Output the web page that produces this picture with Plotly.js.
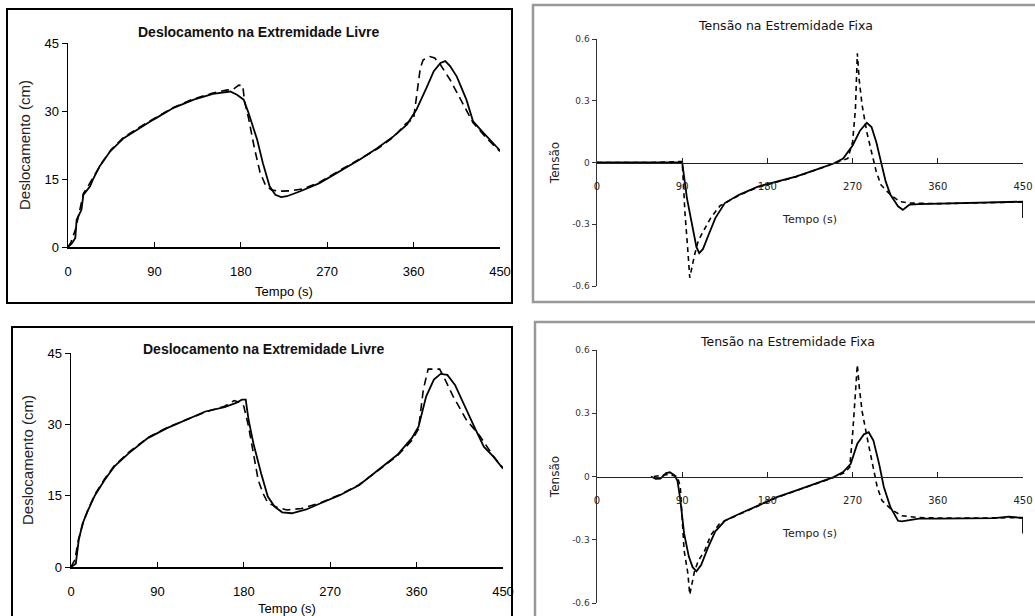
<!DOCTYPE html>
<html>
<head>
<meta charset="utf-8">
<script src="https://cdn.plot.ly/plotly-3.0.1.min.js"></script>
<style>html,body{margin:0;padding:0;background:#fff;}#chart{width:1035px;height:616px;}</style>
</head>
<body>
<div id="chart"></div>
<script>
// ---------- data ----------
const xTicks = [0, 90, 180, 270, 360, 450];
const dispTicks = [0, 15, 30, 45];
const stressTicks = [-0.6, -0.3, 0, 0.3, 0.6];
const stressTickText = ['-0.6', '-0.3', '0', '0.3', '0.6'];

const titleDisp = 'Deslocamento na Extremidade Livre';
const titleStress = 'Tensão na Estremidade Fixa';

// Panel 1 (top-left): displacement
const p1SolidT = [0,4,7.6,9,14,16,23,26,33,44,58,75,89,110,131,151,169,176,183,188,197,203,210,216,222,228,242,262,283,304,322,339,353,363,374,381,388,393,398,405,415,422,433,443,450];
const p1SolidV = [0,0.8,2,6,8.2,11.5,13.4,14.9,17.8,21.1,24,26.3,28.1,30.7,32.5,33.8,34.3,33.6,32.5,29.6,23.7,18.5,13.4,11.5,11,11.2,12.3,14.1,16.7,19.3,21.8,24.4,27,30.3,35.4,38.8,40.6,41,39.9,37.6,32.5,27.7,25.1,22.9,21.3];
const p1DashT = [0,3,8,12,16,22,28,35,45,58,75,90,110,130,150,165,172,178,182,184,188,194,200,206,212,220,232,245,262,283,304,322,339,352,360,363,367,370,377,382,388,398,408,422,436,450];
const p1DashV = [0,1,4,8,11.8,13.8,16,18.5,21.5,24.2,26.5,28.3,30.8,32.6,33.9,34.6,34.8,35.7,35.6,32,28.5,22,16.5,13.5,12.6,12.3,12.4,12.8,14.3,16.9,19.4,21.6,24.2,27.2,28.3,33,39.5,41.3,42,41.7,40.2,36.9,32.9,27.4,24,21.1];

// Panel 2 (top-right): stress
const p2SolidT = [0,30,60,88,90,95,100,105,108,112,118,125,135,150,170,190,210,230,250,260,270,278,285,290,295,300,305,310,318,323,330,340,360,380,400,420,440,448,450,450];
const p2SolidV = [0,0,0,0,0,-0.173,-0.30,-0.41,-0.44,-0.42,-0.35,-0.27,-0.197,-0.157,-0.117,-0.093,-0.069,-0.037,-0.005,0.019,0.083,0.156,0.193,0.172,0.1,0.003,-0.093,-0.157,-0.213,-0.23,-0.205,-0.202,-0.2,-0.199,-0.197,-0.195,-0.193,-0.19,-0.19,-0.27];
const p2DashT = [0,30,60,90,93,96,98,103,107,114,120,130,150,170,190,210,230,250,265,270,273,275,277,280,285,290,295,300,310,320,330,360,400,440,450];
const p2DashV = [0,0,0,0.005,-0.25,-0.43,-0.56,-0.45,-0.38,-0.32,-0.27,-0.21,-0.16,-0.12,-0.095,-0.07,-0.038,-0.007,0.02,0.1,0.26,0.53,0.40,0.28,0.148,0.051,-0.045,-0.109,-0.157,-0.19,-0.197,-0.2,-0.198,-0.195,-0.192];

// Panel 3 (bottom-left): displacement
const p3SolidT = [0,5,8,12,17,25,35,45,60,80,100,120,140,160,172,178,182,185,190,198,205,212,220,230,245,260,280,300,320,340,355,362,370,378,385,392,400,410,420,430,440,450];
const p3SolidV = [0,0.7,5.6,9.1,11.6,15.1,18.3,21.1,23.9,27.1,29.2,30.9,32.7,33.6,34.5,35.2,35.2,30.9,26,19.7,14.8,12.7,11.5,11.3,12.1,13.4,15.1,17.2,20.4,23.6,27.1,29.5,35.9,39.4,40.6,40.4,38.3,33.8,29.5,25.3,23.2,20.7];
const p3DashT = [0,4,8,13,18,25,35,45,60,80,100,120,140,160,170,176,180,185,190,195,200,205,215,225,240,260,280,300,320,340,355,362,367,372,384,388,398,412,425,440,450];
const p3DashV = [0,1.5,6,9.5,12.2,15.3,18.5,21.3,24.1,27.2,29.3,31,32.6,33.8,35,34.6,33.8,29.5,24,18.3,15.5,13.5,12.5,12,12.3,13.5,15.2,17.3,20.3,23.4,26.6,29,37.3,41.6,41.6,40.1,35.9,30.9,27.8,23.3,20.8];

// Panel 4 (bottom-right): stress
const p4SolidT = [57,62,67,73,77,82,85,88,92,97,101,105,110,117,125,135,150,170,190,210,230,250,260,268,275,282,287,292,298,303,310,318,322,340,360,380,420,435,445,450,450];
const p4SolidV = [0,-0.011,-0.01,0.016,0.02,0.005,-0.02,-0.11,-0.27,-0.38,-0.43,-0.45,-0.42,-0.34,-0.26,-0.21,-0.178,-0.138,-0.098,-0.067,-0.035,-0.003,0.021,0.06,0.156,0.2,0.21,0.17,0.06,-0.05,-0.146,-0.21,-0.213,-0.2,-0.2,-0.2,-0.197,-0.19,-0.197,-0.197,-0.27];
const p4DashT = [60,75,85,88,92,96,98,103,107,114,120,130,150,170,190,210,230,250,262,267,270,273,275,277,280,286,291,296,301,312,322,340,380,420,450];
const p4DashV = [0,0.01,0,-0.05,-0.35,-0.46,-0.56,-0.45,-0.4,-0.35,-0.28,-0.22,-0.18,-0.14,-0.1,-0.068,-0.036,-0.005,0.02,0.044,0.2,0.425,0.53,0.425,0.31,0.17,0.06,-0.05,-0.114,-0.16,-0.186,-0.195,-0.198,-0.196,-0.195];

// ---------- layout helpers ----------
const W = 1035, H = 616;
const fx = px => px / W;
const fy = py => 1 - py / H;

const leftFont = 'Liberation Sans, Arial, sans-serif';
const rightFont = 'DejaVu Sans, Verdana, sans-serif';

function line(x, y, xa, ya, dash, width) {
  return {x: x, y: y, xaxis: xa, yaxis: ya, type: 'scatter', mode: 'lines',
    line: {color: '#000', width: width, dash: dash}, hoverinfo: 'skip', showlegend: false, cliponaxis: false};
}

const traces = [
  line(p1SolidT, p1SolidV, 'x', 'y', 'solid', 1.8),
  line(p1DashT, p1DashV, 'x', 'y', '8px,5px', 1.6),
  line(p2SolidT, p2SolidV, 'x2', 'y2', 'solid', 1.8),
  line(p2DashT, p2DashV, 'x2', 'y2', '5px,4px', 1.6),
  line(p3SolidT, p3SolidV, 'x3', 'y3', 'solid', 1.8),
  line(p3DashT, p3DashV, 'x3', 'y3', '8px,5px', 1.6),
  line(p4SolidT, p4SolidV, 'x4', 'y4', 'solid', 1.8),
  line(p4DashT, p4DashV, 'x4', 'y4', '5px,4px', 1.6)
];

function leftX(domain, anchor, standoff) {
  return {domain: domain, anchor: anchor, range: [0, 450], tickvals: xTicks,
    showline: true, linecolor: '#000', linewidth: 1.5, ticks: 'inside', ticklen: 5, tickcolor: '#000',
    ticklabelstandoff: 12, ticklabeloverflow: 'allow',
    showgrid: false, zeroline: false, tickfont: {family: leftFont, size: 13, color: '#000'},
    title: {text: 'Tempo (s)', font: {family: leftFont, size: 13, color: '#000'}, standoff: standoff}};
}
function leftY(domain, anchor) {
  return {domain: domain, anchor: anchor, range: [0, 45], tickvals: dispTicks,
    showline: true, linecolor: '#000', linewidth: 1.5, ticks: 'outside', ticklen: 5, tickcolor: '#000',
    showgrid: false, zeroline: false, tickfont: {family: leftFont, size: 13, color: '#000'},
    title: {text: 'Deslocamento (cm)', font: {family: leftFont, size: 15, color: '#222'}, standoff: 10}};
}
function rightX(domain, ydom) {
  return {domain: domain, anchor: 'free', position: (ydom[0] + ydom[1]) / 2, range: [0, 450], tickvals: xTicks,
    showline: true, linecolor: '#222', linewidth: 1.5, ticks: 'inside', ticklen: 5, tickcolor: '#222',
    ticklabelstandoff: 14, ticklabeloverflow: 'allow',
    showgrid: false, zeroline: false, tickfont: {family: rightFont, size: 10, color: '#222'},
    title: {text: 'Tempo (s)', font: {family: rightFont, size: 11, color: '#222'}, standoff: 24}};
}
function rightY(domain, anchor) {
  return {domain: domain, anchor: anchor, range: [-0.6, 0.6], tickvals: stressTicks, ticktext: stressTickText,
    showline: true, linecolor: '#333', linewidth: 1.5, ticks: 'outside', ticklen: 4, tickcolor: '#333',
    showgrid: false, zeroline: false, tickfont: {family: rightFont, size: 9, color: '#333'},
    title: {text: 'Tensão', font: {family: rightFont, size: 12, color: '#222'}, standoff: 10}};
}

const d1x = [fx(68), fx(500)], d1y = [fy(247), fy(43)];
const d2x = [fx(597), fx(1023)], d2y = [fy(286), fy(39)];
const d3x = [fx(71), fx(503)], d3y = [fy(567), fy(353)];
const d4x = [fx(597), fx(1023)], d4y = [fy(603), fy(350)];

function box(x0, y0, x1, y1, color, w) {
  return {type: 'rect', xref: 'paper', yref: 'paper', x0: fx(x0), x1: fx(x1), y0: fy(y1), y1: fy(y0),
    line: {color: color, width: w}, fillcolor: 'rgba(0,0,0,0)', layer: 'below'};
}
function label(text, px, py, font, size, bold) {
  return {text: bold ? '<b>' + text + '</b>' : text, xref: 'paper', yref: 'paper', x: fx(px), y: fy(py),
    xanchor: 'center', yanchor: 'middle', showarrow: false, font: {family: font, size: size, color: '#111'}};
}

const layout = {
  width: W, height: H, margin: {l: 0, r: 0, t: 0, b: 0},
  paper_bgcolor: '#fff', plot_bgcolor: 'rgba(0,0,0,0)', showlegend: false,
  xaxis: leftX(d1x, 'y', 9), yaxis: leftY(d1y, 'x'),
  xaxis2: rightX(d2x, d2y), yaxis2: rightY(d2y, 'x2'),
  xaxis3: leftX(d3x, 'y3', 6), yaxis3: leftY(d3y, 'x3'),
  xaxis4: rightX(d4x, d4y), yaxis4: rightY(d4y, 'x4'),
  shapes: [
    box(7, 9, 512, 303, '#000', 2),
    box(533, 5, 1040, 302, '#999', 2.5),
    box(12, 327, 512, 620, '#000', 2),
    box(535, 322, 1040, 620, '#999', 2.5)
  ],
  annotations: [
    label(titleDisp, 258, 32, leftFont, 14, true),
    label(titleStress, 785, 25, rightFont, 12.5, false),
    label(titleDisp, 263, 349, leftFont, 14, true),
    label(titleStress, 787, 341, rightFont, 12.5, false)
  ]
};

Plotly.newPlot('chart', traces, layout, {displayModeBar: false, staticPlot: true});
</script>
</body>
</html>
